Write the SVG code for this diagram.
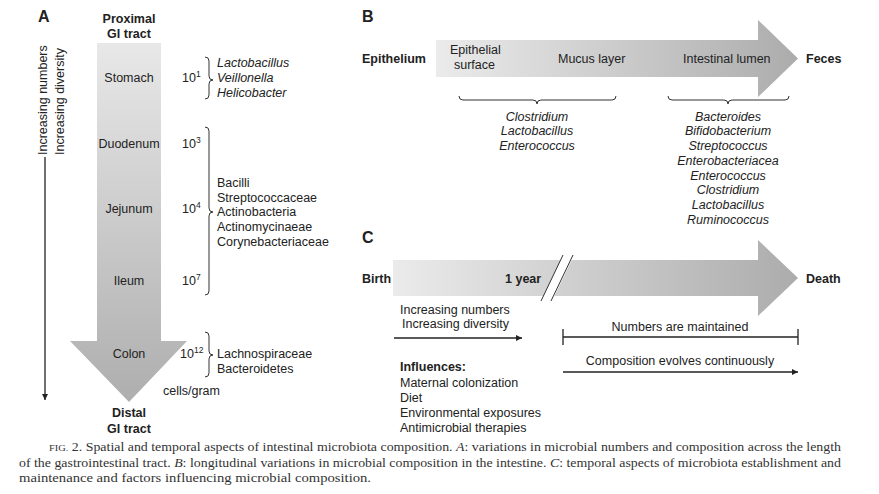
<svg xmlns="http://www.w3.org/2000/svg" width="879" height="494" viewBox="0 0 879 494">
<defs>
<linearGradient id="gA" gradientUnits="userSpaceOnUse" x1="0" y1="43" x2="0" y2="402">
<stop offset="0" stop-color="#e8e8e8"/><stop offset="1" stop-color="#aeaeae"/>
</linearGradient>
<linearGradient id="gB" gradientUnits="userSpaceOnUse" x1="436" y1="0" x2="798" y2="0">
<stop offset="0" stop-color="#ebebeb"/><stop offset="1" stop-color="#acacac"/>
</linearGradient>
<linearGradient id="gC" gradientUnits="userSpaceOnUse" x1="393" y1="0" x2="798" y2="0">
<stop offset="0" stop-color="#ebebeb"/><stop offset="1" stop-color="#acacac"/>
</linearGradient>
<marker id="ah" viewBox="0 0 10 10" refX="10" refY="5" markerWidth="8" markerHeight="6" markerUnits="userSpaceOnUse" orient="auto">
<path d="M0,0 L10,5 L0,10 z" fill="#222"/>
</marker>
</defs>
<style>
text{font-family:"Liberation Sans",Arial,sans-serif;font-size:12.5px;fill:#222}
.b{font-weight:bold}
.L{font-weight:bold;font-size:16px}
.i{font-style:italic}
.m{text-anchor:middle}
.sup{font-size:8.5px}
.brace{fill:none;stroke:#333;stroke-width:1}
.ln{stroke:#222;stroke-width:1.3;fill:none}
.cap{font-family:"Liberation Serif","Times New Roman",serif;font-size:12px;fill:#333}
</style>
<rect width="879" height="494" fill="#fff"/>

<!-- Panel A -->
<g id="panelA">
<text class="L" x="38" y="22">A</text>
<g id="proximal"><text class="b m" x="129" y="23">Proximal</text><text class="b m" x="129" y="38">GI tract</text></g>
<path id="gi-arrow" d="M97,43 H161 V341 H187 L129,402 L70,341 H97 Z" fill="url(#gA)"/>
<g id="stomach"><text class="m" x="129" y="82">Stomach</text><text x="182" y="82">10<tspan class="sup" dy="-5">1</tspan></text></g>
<g id="duodenum"><text class="m" x="129" y="148">Duodenum</text><text x="182" y="148">10<tspan class="sup" dy="-5">3</tspan></text></g>
<g id="jejunum"><text class="m" x="129" y="213">Jejunum</text><text x="182" y="213">10<tspan class="sup" dy="-5">4</tspan></text></g>
<g id="ileum"><text class="m" x="129" y="285">Ileum</text><text x="182" y="285">10<tspan class="sup" dy="-5">7</tspan></text></g>
<g id="colon"><text class="m" x="129" y="358">Colon</text><text x="180" y="358">10<tspan class="sup" dy="-5">12</tspan></text></g>
<text x="163" y="395">cells/gram</text>
<g id="distal"><text class="b m" x="129" y="417">Distal</text><text class="b m" x="129" y="433">GI tract</text></g>
<g id="groupA1">
<path class="brace" d="M205,57 Q209,57 209,61 L209,76 Q209,80 213,80 Q209,80 209,84 L209,95 Q209,99 205,99"/>
<text class="i" x="217" y="67">Lactobacillus</text>
<text class="i" x="217" y="82">Veillonella</text>
<text class="i" x="217" y="97">Helicobacter</text>
</g>
<g id="groupA2">
<path class="brace" d="M205,127 Q209,127 209,131 L209,208 Q209,212 213,212 Q209,212 209,216 L209,291 Q209,295 205,295"/>
<text x="217" y="187">Bacilli</text>
<text x="217" y="202">Streptococcaceae</text>
<text x="217" y="216">Actinobacteria</text>
<text x="217" y="231">Actinomycinaeae</text>
<text x="217" y="246">Corynebacteriaceae</text>
</g>
<g id="groupA3">
<path class="brace" d="M205,332 Q209,332 209,336 L209,351 Q209,355 213,355 Q209,355 209,359 L209,373 Q209,377 205,377"/>
<text x="217" y="358">Lachnospiraceae</text>
<text x="217" y="373">Bacteroidetes</text>
</g>
<g id="trend">
<text transform="translate(47,155) rotate(-90)">Increasing numbers</text>
<text transform="translate(64,155) rotate(-90)">Increasing diversity</text>
</g>
</g>

<!-- Panel B -->
<g id="panelB">
<text class="L" x="362" y="22">B</text>
<path id="lumen-arrow" d="M436,40 H758 V20 L798,58.5 L758,97 V77 H436 Z" fill="url(#gB)"/>
<text class="b" x="362" y="63">Epithelium</text>
<g id="epithelial"><text x="450" y="54">Epithelial</text><text x="454" y="69">surface</text></g>
<text id="mucus" x="558" y="63">Mucus layer</text>
<text id="lumen" x="683" y="63">Intestinal lumen</text>
<text class="b" x="806" y="63">Feces</text>
<g id="groupB1">
<path class="brace" d="M459,96 Q459,100 463,100 L533,100 Q537,100 537,104 Q537,100 541,100 L612,100 Q616,100 616,96"/>
<text class="i m" x="537" y="121">Clostridium</text>
<text class="i m" x="537" y="135">Lactobacillus</text>
<text class="i m" x="537" y="150">Enterococcus</text>
</g>
<g id="groupB2">
<path class="brace" d="M668,96 Q668,100 672,100 L724,100 Q728,100 728,104 Q728,100 732,100 L785,100 Q789,100 789,96"/>
<text class="i m" x="728" y="121">Bacteroides</text>
<text class="i m" x="728" y="135">Bifidobacterium</text>
<text class="i m" x="728" y="150">Streptococcus</text>
<text class="i m" x="728" y="165">Enterobacteriacea</text>
<text class="i m" x="728" y="180">Enterococcus</text>
<text class="i m" x="728" y="194">Clostridium</text>
<text class="i m" x="728" y="209">Lactobacillus</text>
<text class="i m" x="728" y="224">Ruminococcus</text>
</g>
</g>

<!-- Panel C -->
<g id="panelC">
<text class="L" x="362" y="243">C</text>
<path id="life-arrow" d="M393,260 H758 V240 L798,278 L758,316 V296 H393 Z" fill="url(#gC)"/>
<g id="break">
<polygon points="541,301 563,255 574,255 552,301" fill="#fff"/>
<line x1="541" y1="301" x2="563" y2="255" stroke="#333" stroke-width="1"/>
<line x1="551" y1="301" x2="573" y2="255" stroke="#333" stroke-width="1"/>
</g>
<text class="b" x="362" y="283">Birth</text>
<text class="b" x="505" y="283">1 year</text>
<text class="b" x="806" y="283">Death</text>
<g id="early">
<text x="400" y="314">Increasing numbers</text>
<text x="402" y="328">Increasing diversity</text>
</g>
<g id="maintained"><text class="m" x="680" y="331">Numbers are maintained</text></g>
<g id="evolves"><text class="m" x="680" y="365">Composition evolves continuously</text></g>
<g id="influences">
<text class="b" x="400" y="371">Influences:</text>
<text x="400" y="387">Maternal colonization</text>
<text x="400" y="402">Diet</text>
<text x="400" y="417">Environmental exposures</text>
<text x="400" y="432">Antimicrobial therapies</text>
</g>
</g>

<g id="connectors">
<line class="ln" x1="45" y1="157" x2="45" y2="400" marker-end="url(#ah)"/>
<line class="ln" x1="394" y1="338" x2="522" y2="338" marker-end="url(#ah)"/>
<line class="ln" x1="563" y1="337" x2="798" y2="337"/>
<line class="ln" x1="563" y1="329" x2="563" y2="345"/>
<line class="ln" x1="798" y1="329" x2="798" y2="345"/>
<line class="ln" x1="563" y1="372" x2="798" y2="372" marker-end="url(#ah)"/>
</g>

<g id="caption">
<text class="cap" x="49" y="451" textLength="792" lengthAdjust="spacingAndGlyphs"><tspan font-size="9">FIG.</tspan> 2. Spatial and temporal aspects of intestinal microbiota composition. <tspan font-style="italic">A</tspan>: variations in microbial numbers and composition across the length</text>
<text class="cap" x="19" y="467" textLength="822" lengthAdjust="spacingAndGlyphs">of the gastrointestinal tract. <tspan font-style="italic">B</tspan>: longitudinal variations in microbial composition in the intestine. <tspan font-style="italic">C</tspan>: temporal aspects of microbiota establishment and</text>
<text class="cap" x="19" y="482" textLength="352" lengthAdjust="spacingAndGlyphs">maintenance and factors influencing microbial composition.</text>
</g>
</svg>
